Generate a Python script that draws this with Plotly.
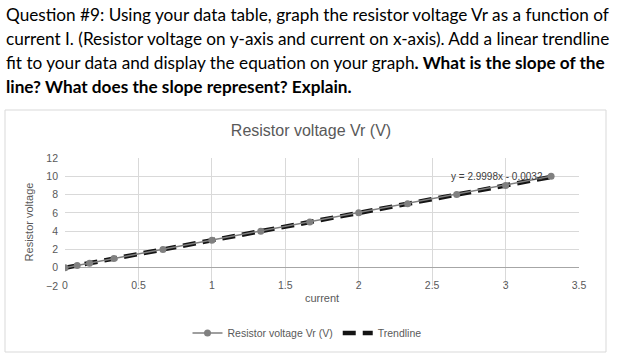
import plotly.graph_objects as go

# ---- data ----
current = [0, 0.083, 0.167, 0.333, 0.667, 1.0, 1.333, 1.667, 2.0, 2.333, 2.667, 3.0, 3.31]
resistor_voltage = [0, 0.25, 0.5, 1.0, 2.0, 3.0, 4.0, 5.0, 6.0, 7.0, 8.0, 9.0, 10.0]
trend_slope = 2.9998
trend_intercept = -0.0032
x_ticks = [0, 0.5, 1, 1.5, 2, 2.5, 3, 3.5]
y_ticks = [-2, 0, 2, 4, 6, 8, 10, 12]
question_lines = [
    "Question #9: Using your data table, graph the resistor voltage Vr as a function of",
    "current I. (Resistor voltage on y-axis and current on x-axis). Add a linear trendline",
    "fit to your data and display the equation on your graph<b>. What is the slope of the</b>",
    "<b>line? What does the slope represent? Explain.</b>",
]

W, H = 623, 358
L, R, T, B = 65, 579, 158, 286  # plot area in px


def px(xp):
    return (xp - L) / (R - L)


def py(yp):
    return (B - yp) / (B - T)


trend_x = [min(current), max(current)]
trend_y = [trend_slope * v + trend_intercept for v in trend_x]

fig = go.Figure()
fig.add_trace(go.Scatter(
    x=trend_x, y=trend_y, mode="lines", name="Trendline",
    line=dict(color="#141414", width=4.5, dash="13px,7px"),
    legendrank=2,
))
fig.add_trace(go.Scatter(
    x=current, y=resistor_voltage, mode="lines+markers",
    name="Resistor voltage Vr (V)",
    line=dict(color="#7f7f7f", width=1.5),
    marker=dict(color="#808080", size=7),
    legendrank=1,
))

grey = "#595959"
fig.update_layout(
    width=W, height=H,
    margin=dict(l=L, r=W - R, t=T, b=H - B, autoexpand=False),
    paper_bgcolor="white", plot_bgcolor="white",
    font=dict(family="Liberation Sans, Arial, sans-serif", color=grey, size=10),
    showlegend=True,
    legend=dict(orientation="h", x=px(307), xanchor="center", y=py(333), yanchor="middle",
                font=dict(size=10.5, color=grey), bgcolor="rgba(0,0,0,0)",
                itemwidth=30),
    title=dict(text="Resistor voltage Vr (V)", x=311 / W, xref="container", xanchor="center",
               y=1 - 130 / H, yref="container", yanchor="middle",
               font=dict(size=16, color=grey)),
    xaxis=dict(range=[0, 3.5], tickvals=x_ticks, ticktext=[str(v) for v in x_ticks],
               showgrid=True, gridcolor="#d9d9d9", gridwidth=1, zeroline=False,
               showline=False, ticks="", tickfont=dict(size=10.5, color=grey),
               ticklabelstandoff=-9, automargin=False,
               title=dict(text="current", font=dict(size=11, color=grey), standoff=4)),
    yaxis=dict(range=[-2, 12], tickvals=y_ticks, showgrid=True, gridcolor="#d9d9d9",
               zeroline=True, zerolinecolor="#a6a6a6", zerolinewidth=1,
               showline=False, ticks="", tickfont=dict(size=10.5, color=grey),
               ticklabelstandoff=6, automargin=False,
               title=dict(text="Resistor voltage", font=dict(size=11, color=grey), standoff=10)),
)

# chart border
fig.add_shape(type="rect", xref="paper", yref="paper",
              x0=px(5), x1=px(606), y0=py(352), y1=py(110),
              line=dict(color="#d9d9d9", width=1), fillcolor="rgba(0,0,0,0)", layer="below")

# trendline equation
fig.add_annotation(x=2.94, y=10.0, xref="x", yref="y", text="y = 2.9998x - 0.0032",
                   showarrow=False, font=dict(size=10, color="#404040"))

# question text
for i, line in enumerate(question_lines):
    fig.add_annotation(x=px(4), y=py(14 + 24 * i), xref="paper", yref="paper",
                       xanchor="left", yanchor="middle", text=line, showarrow=False,
                       align="left", font=dict(family="Lato, sans-serif", size=17.2, color="black"))

fig.write_html("out.html", config={"displayModeBar": False},
               post_script="document.body.style.margin='0';document.body.style.overflow='hidden';")
